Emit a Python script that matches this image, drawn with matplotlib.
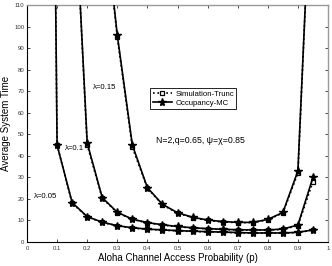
import matplotlib
matplotlib.use("Agg")
import matplotlib.pyplot as plt
import numpy as np

plt.rcParams['font.family'] = ['Liberation Sans', 'DejaVu Sans']

p_005 = [0.05, 0.10, 0.15, 0.20, 0.25, 0.30, 0.35, 0.40, 0.45, 0.50, 0.55, 0.60, 0.65, 0.70, 0.75, 0.80, 0.85, 0.90, 0.95]
t_005 = [750, 45, 18.3, 11.8, 9.2, 7.6, 6.6, 6.0, 5.6, 5.3, 5.0, 4.8, 4.6, 4.4, 4.2, 4.2, 4.2, 4.5, 5.6]
s_005 = [750, 45, 18.0, 11.7, 9.1, 7.5, 6.5, 5.9, 5.5, 5.2, 4.9, 4.7, 4.5, 4.3, 4.1, 4.1, 4.1, 4.4, 5.5]

p_010 = [0.15, 0.20, 0.25, 0.30, 0.35, 0.40, 0.45, 0.50, 0.55, 0.60, 0.65, 0.70, 0.75, 0.80, 0.85, 0.90, 0.95]
t_010 = [185, 46, 20.6, 13.8, 10.6, 9.0, 8.0, 7.2, 6.6, 6.2, 5.9, 5.7, 5.6, 5.6, 6.0, 7.9, 30]
s_010 = [185, 45, 20.3, 13.6, 10.5, 8.9, 7.9, 7.1, 6.5, 6.1, 5.8, 5.6, 5.5, 5.5, 5.9, 7.6, 28]

p_015 = [0.25, 0.30, 0.35, 0.40, 0.45, 0.50, 0.55, 0.60, 0.65, 0.70, 0.75, 0.80, 0.85, 0.90, 0.95]
t_015 = [160, 96, 45, 25.2, 17.5, 13.6, 11.5, 10.2, 9.5, 9.1, 9.1, 10.5, 13.7, 33, 190]
s_015 = [160, 95, 44, 25.0, 17.3, 13.4, 11.3, 10.0, 9.3, 9.0, 9.0, 10.3, 13.5, 32, 190]

xticks = [0, 0.1, 0.2, 0.3, 0.4, 0.5, 0.6, 0.7, 0.8, 0.9, 1]
xticklabels = ['0', '0.1', '0.2', '0.3', '0.4', '0.5', '0.6', '0.7', '0.8', '0.9', '1']
yticks = list(range(0, 111, 10))

fig = plt.figure(figsize=(3.32, 2.66), dpi=100)
ax = fig.add_axes([0.0813, 0.0902, 0.9067, 0.8910])

sim_kw = dict(color='black', linestyle=':', linewidth=1.2, marker='s', markersize=3,
              markerfacecolor='white', markeredgecolor='black', markeredgewidth=0.9)
mc_kw = dict(color='black', linestyle='-', linewidth=1.2, marker='*', markersize=5.8,
             markerfacecolor='black', markeredgecolor='black')

series = [(p_005, s_005, t_005), (p_010, s_010, t_010), (p_015, s_015, t_015)]
for i, (p, s, t) in enumerate(series):
    ax.plot(p, s, label='Simulation-Trunc' if i == 0 else None, zorder=2, **sim_kw)
for i, (p, s, t) in enumerate(series):
    ax.plot(p, t, label='Occupancy-MC' if i == 0 else None, zorder=3, **mc_kw)

ax.set_xlim(0, 1)
ax.set_ylim(0, 110)
ax.set_xticks(xticks)
ax.set_xticklabels(xticklabels)
ax.set_yticks(yticks)
ax.tick_params(direction='in', length=2.5, width=0.5, labelsize=4.3, pad=2,
               top=True, right=True, colors='black', labelcolor='#333333')
ax.tick_params(axis='x', pad=3)
for side in ['left', 'bottom']:
    ax.spines[side].set_linewidth(0.8)
for side in ['top', 'right']:
    ax.spines[side].set_color('#999999')
    ax.spines[side].set_linewidth(1.0)

ax.set_xlabel('Aloha Channel Access Probability (p)', fontsize=7.0, labelpad=1)
ax.set_ylabel('Average System Time', fontsize=7.0, labelpad=2)

ax.text(0.22, 71.5, 'λ=0.15', fontsize=5.6, ha='left', va='center')
ax.text(0.126, 43.6, 'λ=0.1', fontsize=5.6, ha='left', va='center')
ax.text(0.024, 21.3, 'λ=0.05', fontsize=5.6, ha='left', va='center')
ax.text(0.43, 46.9, 'N=2,q=0.65, ψ=χ=0.85', fontsize=6.3, ha='left', va='center')

leg = ax.legend(loc='upper left', bbox_to_anchor=(0.41, 0.648), fontsize=5.6,
                frameon=True, fancybox=False, edgecolor='black', framealpha=1,
                handlelength=2.5, handletextpad=0.4, borderpad=0.3, labelspacing=0.15,
                borderaxespad=0)
leg.get_frame().set_linewidth(0.6)

fig.savefig('out.png', dpi=100)
